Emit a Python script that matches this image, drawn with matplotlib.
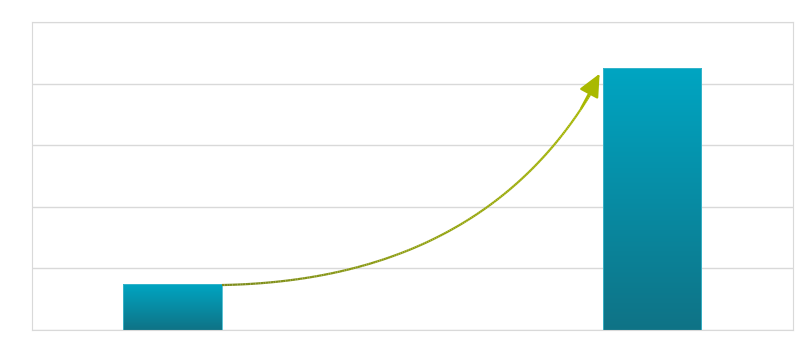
import numpy as np
import matplotlib.pyplot as plt
from matplotlib.colors import LinearSegmentedColormap
from matplotlib.collections import LineCollection
from matplotlib.patches import FancyArrowPatch

# data
categories = ["A", "B"]
values = [0.74, 4.25]

fig = plt.figure(figsize=(8, 3.63), dpi=100)
ax = fig.add_axes([0.04, 0.0909, 0.951, 0.8485])

x = np.arange(len(categories))
bars = ax.bar(x, values, width=0.205, color="none", edgecolor="#3fb8cc", linewidth=0.6, zorder=3)

# gradient fill for each bar
cmap = LinearSegmentedColormap.from_list("bar", ["#0f7386", "#00a5c2"])
grad = np.linspace(0, 1, 256).reshape(-1, 1)
for b in bars:
    x0, w, h = b.get_x(), b.get_width(), b.get_height()
    im = ax.imshow(grad, cmap=cmap, origin="lower", aspect="auto",
                   extent=[x0, x0 + w, 0, h], zorder=2)
    im.set_clip_path(b)

ax.set_xlim(-0.293, 1.293)
ax.set_ylim(0, 5)
ax.set_yticks(np.arange(0, 6, 1))
ax.set_xticks([])
ax.set_yticklabels([])
ax.tick_params(length=0)
ax.grid(axis="y", color="#d9d9d9", linewidth=1, zorder=0)
for s in ax.spines.values():
    s.set_color("#d9d9d9")

# curved arrow from first bar to second bar
p0 = np.array([0.103, 0.73])
p1 = np.array([0.65, 0.81])
p2 = np.array([0.884, 4.0])
t = np.linspace(0, 1, 200)[:, None]
pts = (1 - t) ** 2 * p0 + 2 * (1 - t) * t * p1 + t ** 2 * p2
segs = np.stack([pts[:-1], pts[1:]], axis=1)
acmap = LinearSegmentedColormap.from_list("arr", ["#7d8c1c", "#a9b900"])
lc = LineCollection(segs, cmap=acmap, linewidth=1.6, zorder=4)
lc.set_array(np.linspace(0, 1, len(segs)))
ax.add_collection(lc)
head = FancyArrowPatch(pts[-15], [0.893, 4.2], arrowstyle="-|>,head_length=14,head_width=6.5",
                       color="#a9b900", linewidth=1.6, mutation_scale=1, zorder=5)
ax.add_patch(head)

fig.savefig("out.png", dpi=100)
